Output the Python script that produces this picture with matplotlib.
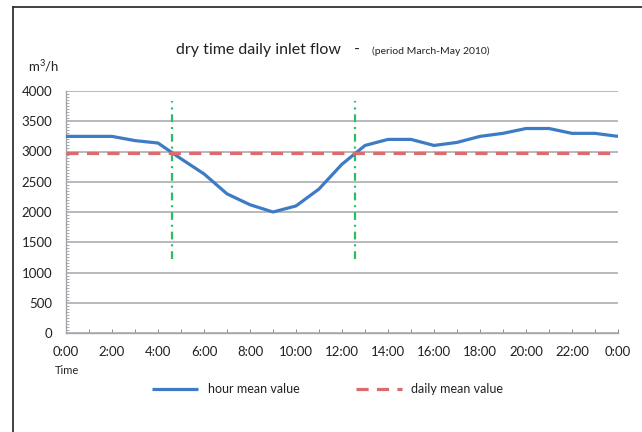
"""
Dry time daily inlet flow: hourly mean vs daily mean.
"""
import numpy as np
import matplotlib
matplotlib.use("Agg")
import matplotlib.pyplot as plt
from matplotlib.ticker import MultipleLocator
from matplotlib.lines import Line2D

plt.rcParams['font.family'] = ['Lato', 'DejaVu Sans']
plt.rcParams['mathtext.default'] = 'regular'

# Data
hours = list(range(25))
hour_mean = [3250, 3250, 3250, 3180, 3140, 2880, 2630, 2300, 2120, 2000,
             2100, 2380, 2790, 3100, 3200, 3200, 3100, 3150, 3250, 3300,
             3380, 3380, 3300, 3300, 3250]
daily_mean = 2970
markers_x = [4.6, 12.55]
markers_y = (1220, 3830)
tick_hours = list(range(0, 25, 2))
tick_labels = [f"{h % 24}:00" for h in tick_hours]

blue = '#3d7cc4'
red = '#dc6b6f'
green = '#27bf63'
grid_col = '#a3a7ab'
text_col = '#222222'

fig = plt.figure(figsize=(6.42, 4.32), dpi=100)
ax = fig.add_axes([66/642, 1 - 333/432, (618-66)/642, (333-91)/432])

ax.plot(hours, hour_mean, color=blue, lw=2.3, solid_capstyle='butt',
        label='hour mean value', zorder=3)
ax.plot([0, 24], [daily_mean, daily_mean], color=red, lw=2.3,
        dashes=(3.8, 2.6), label='daily mean value', zorder=4)
for xm in markers_x:
    ax.plot([xm, xm], markers_y, color=green, lw=1.6,
            dashes=(3.5, 2.2, 0.9, 2.2), zorder=2)

ax.set_xlim(0, 24)
ax.set_ylim(0, 4000)
ax.set_xticks(tick_hours)
ax.set_xticklabels(tick_labels)
ax.xaxis.set_minor_locator(MultipleLocator(1))
ax.set_yticks(np.arange(0, 4001, 500))
ax.yaxis.set_minor_locator(MultipleLocator(50))

ax.grid(axis='y', which='major', color=grid_col, lw=1.1)
ax.set_axisbelow(True)
for s in ['top', 'right']:
    ax.spines[s].set_visible(False)
for s in ['left', 'bottom']:
    ax.spines[s].set_color(grid_col)
    ax.spines[s].set_linewidth(1.0)

ax.tick_params(axis='y', which='major', length=0, pad=10,
               labelsize=9.5, labelcolor=text_col)
ax.tick_params(axis='y', which='minor', direction='in', length=2.5,
               color='#999999', width=0.6)
ax.tick_params(axis='x', which='both', direction='in', length=3,
               color='#888888', width=0.7, pad=9,
               labelsize=9.5, labelcolor=text_col)

# Titles and labels
fig.text(176/642, 1 - 50/432, 'dry time daily inlet flow', fontsize=11.5,
         color=text_col, va='center', ha='left')
fig.text(357/642, 1 - 50/432, '-', fontsize=11.5,
         color=text_col, va='center', ha='center')
fig.text(372/642, 1 - 51/432, '(period March-May 2010)', fontsize=7.5,
         color=text_col, va='center', ha='left')
fig.text(28/642, 1 - 66/432, 'm$^3$/h', fontsize=9.5, color=text_col,
         va='center', ha='left')
fig.text(55/642, 1 - 370/432, 'Time', fontsize=8, color=text_col,
         va='center', ha='left')

# Legend
fig.legend(loc='center left', bbox_to_anchor=(152/642, 1 - 389/432), ncol=2,
           frameon=False, fontsize=9, handlelength=3.7, columnspacing=4.5,
           handletextpad=0.75, labelcolor=text_col, borderpad=0,
           borderaxespad=0)

# Frame lines around the picture
fig.add_artist(Line2D([13/642, 13/642], [0, 1 - 7/432], color='#333333', lw=1.3))
fig.add_artist(Line2D([13/642, 1], [1 - 7/432, 1 - 7/432], color='#333333', lw=1.3))

fig.savefig('out.png', dpi=100)
